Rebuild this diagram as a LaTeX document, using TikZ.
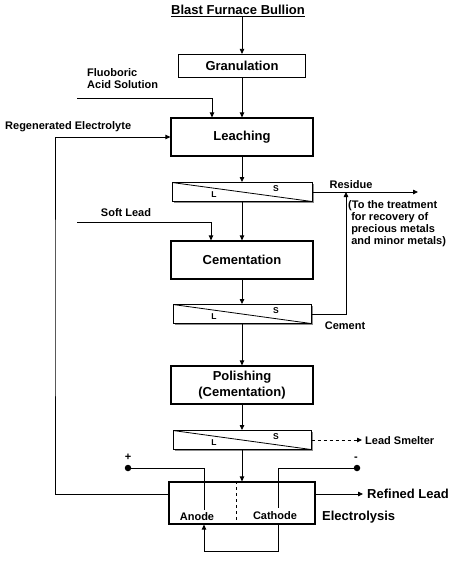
\documentclass[tikz,border=0pt]{standalone}
\usepackage{fontspec}
\setmainfont{Liberation Sans}
\usetikzlibrary{arrows.meta,shadows}

\begin{document}
\begin{tikzpicture}[x=1pt,y=-1pt,
        arr/.style={-{Triangle[length=5pt,width=4.5pt]},line width=0.8pt},
        stage/.style={draw,line width=1.2pt,minimum width=142pt,minimum height=38pt,
            align=center,inner sep=0pt,font=\bfseries\fontsize{13}{16.5}\selectfont},
        sep/.style={draw,line width=1pt,fill=white,minimum width=138pt,minimum height=19pt,inner sep=0pt,
            drop shadow={shadow xshift=1.5pt,shadow yshift=-1.5pt,fill=black!45,opacity=1},
            path picture={\draw[line width=0.8pt] (path picture bounding box.north west)
                -- (path picture bounding box.south east);}},
        txt/.style={inner sep=0pt,font=\bfseries\fontsize{11}{12}\selectfont},
        big/.style={inner sep=0pt,font=\bfseries\fontsize{13}{15}\selectfont},
        lsmall/.style={inner sep=0pt,font=\bfseries\fontsize{8.5}{10}\selectfont},
        dot/.style={circle,fill,inner sep=0pt,minimum size=6.5pt}]
    \useasboundingbox (0,0) rectangle (455,562);
    %% feed and process stages
    \node[big] (bullion) at (238,11) {\underline{Blast Furnace Bullion}};
    \node[stage,minimum width=127pt,minimum height=23pt] (gran) at (242,66) {Granulation};
    \node[stage] (leach) at (242,137) {Leaching};
    \node[stage] (cem) at (242,260) {Cementation};
    \node[stage] (pol) at (242,385) {Polishing\\(Cementation)};
    \node[stage,minimum width=146pt,minimum height=42pt] (elec) at (242,503) {};
    %% solid/liquid separators
    \node[sep,minimum width=140pt] (sep1) at (242,192) {};
    \node[sep] (sep2) at (242,314) {};
    \node[sep] (sep3) at (242,440) {};
    \foreach \s in {1,2,3} {
        \node[lsmall] (L\s) at ([shift={(-28,3)}]sep\s) {L};
        \node[lsmall] (S\s) at ([shift={(34,-3)}]sep\s) {S};
    }
    %% main flow
    \draw[arr] (bullion.south -| gran.north) -- (gran.north);
    \foreach \a/\b in {gran/leach,leach/sep1,sep1/cem,cem/sep2,sep2/pol,pol/sep3,sep3/elec}
        \draw[arr] (\a) -- (\b);
    %% reagents
    \node[txt,anchor=north west,align=left] (fluo) at (87,68) {Fluoboric\\Acid Solution};
    \coordinate (fa) at (77,98);
    \draw[arr] (fa) -| ([xshift=-30pt]leach.north);
    \node[txt] (soft) at (126,213) {Soft Lead};
    \coordinate (sl) at (77,222);
    \draw[arr] (sl) -| ([xshift=-31pt]cem.north);
    %% residue and cement
    \node[txt] (residue) at (351,185) {Residue};
    \coordinate (resend) at (418,0);
    \coordinate (resj) at (346,0);
    \draw[arr] (sep1.east) -- (sep1.east -| resend);
    \draw[arr] (sep2.east) -| (sep1.east -| resj);
    \node[txt,anchor=north west,align=left] (treat) at (348,200)
        {(To the treatment\\\ for recovery of\\\ precious metals\\\ and minor metals)};
    \node[txt] (cement) at (345,326) {Cement};
    %% regenerated electrolyte
    \node[txt,anchor=west] (regen) at (5,127) {Regenerated Electrolyte};
    \coordinate (rel) at (55,300);
    \draw[arr] ([yshift=9pt]elec.west) -| (rel) |- (leach.west);
    %% products
    \node[txt,anchor=west] (smelt) at (365,441) {Lead Smelter};
    \draw[arr,dashed,shorten >=3pt] (sep3.east) -- (sep3.east -| smelt.west);
    \node[big,anchor=west] (refined) at (367,494) {Refined Lead};
    \draw[arr,shorten >=4pt] (elec.east |- refined.west) -- (refined.west);
    \node[big,anchor=west] (electro) at (322,517) {Electrolysis};
    %% electrodes
    \node[txt] (anode) at (197,517) {Anode};
    \node[txt] (cathode) at (275,516) {Cathode};
    \draw[dashed,line width=0.6pt] ([xshift=-6pt]elec.north) -- ([xshift=-6pt]elec.south);
    \node[dot] (pdot) at (128,468) {};
    \node[dot] (mdot) at (357,468) {};
    \node[txt] (plus) at (128,457) {+};
    \node[txt] (minus) at (356,459) {-};
    \coordinate (aw) at (204,510);
    \coordinate (cw) at (278,508);
    \draw[line width=0.8pt] (pdot) -| (aw);
    \draw[line width=0.8pt] (mdot) -| (cw);
    \draw[arr] (elec.south -| cw) -- ++(0,27) -| (elec.south -| aw);
\end{tikzpicture}
\end{document}
